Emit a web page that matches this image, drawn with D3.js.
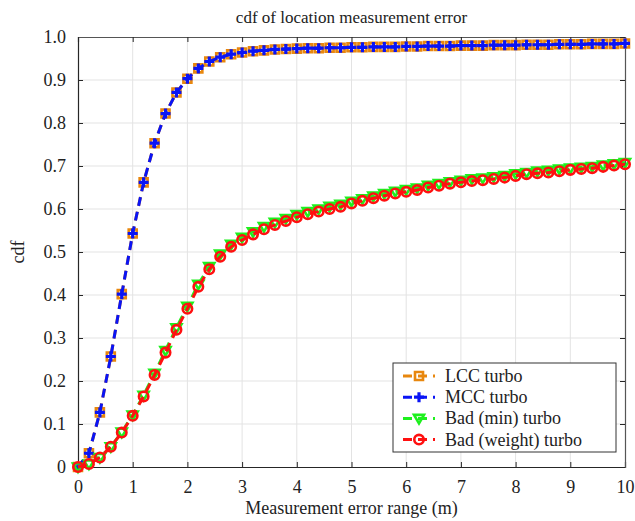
<!DOCTYPE html>
<html>
<head>
<meta charset="utf-8">
<script src="https://cdn.jsdelivr.net/npm/d3@7"></script>
<style>
  body { margin: 0; background: #fff; }
  svg { display: block; }
  svg text { font-family: "Liberation Serif", "DejaVu Serif", serif !important; }
  .grid line { stroke: #e3e3e3; stroke-width: 1; }
</style>
</head>
<body>
<svg class="cdfGraph" width="635" height="521"></svg>
<script>
// x positions: 0 to 10 in steps of 0.2 (51 samples)
const xs = d3.range(0, 51).map(i => +(i * 0.2).toFixed(1));

const mccTurbo = [
  0, 0.032, 0.127, 0.257, 0.402, 0.543, 0.662, 0.753, 0.822, 0.871,
  0.903, 0.927, 0.943, 0.953, 0.960, 0.964, 0.967, 0.969, 0.971, 0.972,
  0.973, 0.974, 0.974, 0.975, 0.975, 0.976, 0.976, 0.977, 0.977, 0.977,
  0.978, 0.978, 0.979, 0.979, 0.979, 0.980, 0.980, 0.980, 0.981, 0.981,
  0.981, 0.982, 0.982, 0.982, 0.983, 0.983, 0.983, 0.984, 0.984, 0.984,
  0.985
];
const lccTurbo = mccTurbo.slice();

const badWeightTurbo = [
  0, 0.007, 0.022, 0.047, 0.080, 0.119, 0.164, 0.214, 0.266, 0.319,
  0.368, 0.419, 0.460, 0.489, 0.512, 0.528, 0.541, 0.553, 0.563, 0.572,
  0.581, 0.588, 0.594, 0.600, 0.605, 0.613, 0.619, 0.625, 0.631, 0.636,
  0.640, 0.644, 0.650, 0.654, 0.659, 0.662, 0.665, 0.667, 0.670, 0.673,
  0.677, 0.681, 0.683, 0.685, 0.688, 0.691, 0.693, 0.695, 0.698, 0.701,
  0.704
];
const badMinTurbo = [
  0, 0.007, 0.022, 0.047, 0.081, 0.121, 0.167, 0.218, 0.271, 0.324,
  0.374, 0.425, 0.466, 0.495, 0.518, 0.534, 0.547, 0.559, 0.569, 0.578,
  0.587, 0.594, 0.600, 0.606, 0.611, 0.618, 0.624, 0.630, 0.636, 0.641,
  0.645, 0.649, 0.655, 0.659, 0.663, 0.667, 0.670, 0.672, 0.675, 0.678,
  0.682, 0.685, 0.688, 0.690, 0.693, 0.695, 0.697, 0.699, 0.702, 0.705,
  0.708
];

const xTicks = d3.range(0, 11);
const yTicks = d3.range(0, 11).map(i => i / 10);

const series = [
  { name: "LCC turbo", values: lccTurbo, color: "#e8870e", marker: "square" },
  { name: "MCC turbo", values: mccTurbo, color: "#0a14f5", marker: "plus" },
  { name: "Bad (min) turbo", values: badMinTurbo, color: "#1ef01e", marker: "triangle" },
  { name: "Bad (weight) turbo", values: badWeightTurbo, color: "#ff1010", marker: "circle" }
];

const svg = d3.select(".cdfGraph");
const margin = { top: 37, right: 10, bottom: 54, left: 78 };
const width = 635 - margin.left - margin.right;
const height = 521 - margin.top - margin.bottom;

const g = svg.append("g").attr("transform", `translate(${margin.left},${margin.top})`);

const x = d3.scaleLinear().domain([0, 10]).range([0, width]);
const y = d3.scaleLinear().domain([0, 1]).range([height, 0]);

// grid
g.append("g").attr("class", "grid")
  .selectAll("line").data(xTicks.slice(1, -1)).enter().append("line")
  .attr("x1", d => x(d)).attr("x2", d => x(d)).attr("y1", 0).attr("y2", height);
g.append("g").attr("class", "grid")
  .selectAll("line").data(yTicks.slice(1, -1)).enter().append("line")
  .attr("y1", d => y(d)).attr("y2", d => y(d)).attr("x1", 0).attr("x2", width);

const fmtY = d => d === 0 ? "0" : d.toFixed(1);

// axes, ticks pointing inward (matlab style)
const axB = g.append("g").attr("transform", `translate(0,${height})`)
  .call(d3.axisBottom(x).tickValues(xTicks).tickSize(-5).tickPadding(13));
const axL = g.append("g")
  .call(d3.axisLeft(y).tickValues(yTicks).tickFormat(fmtY).tickSize(-5).tickPadding(12));
const axT = g.append("g")
  .call(d3.axisTop(x).tickValues(xTicks).tickSize(-5).tickFormat(""));
const axR = g.append("g").attr("transform", `translate(${width},0)`)
  .call(d3.axisRight(y).tickValues(yTicks).tickSize(-5).tickFormat(""));

[axB, axL, axT, axR].forEach(a => {
  a.attr("font-size", 18);
  a.selectAll(".tick text").attr("fill", "#222");
  a.select(".domain").attr("stroke", "#262626").attr("stroke-width", 1.2);
  a.selectAll(".tick line").attr("stroke", "#262626");
});
axT.select(".domain").attr("stroke", "#555");
axR.select(".domain").attr("stroke", "#555");

const line = d3.line().x((d, i) => x(xs[i])).y(d => y(d));

const markerPath = {
  square: d3.symbol().type(d3.symbolSquare).size(64)(),
  triangle: "M-5,-3.5L5,-3.5L0,5Z",
  circle: d3.symbol().type(d3.symbolCircle).size(70)(),
  plus: "M-5,0L5,0M0,-5L0,5"
};

function drawMarker(sel, s) {
  sel.append("path")
    .attr("d", markerPath[s.marker])
    .attr("fill", "none")
    .attr("stroke", s.color)
    .attr("stroke-width", s.marker === "plus" ? 3.2 : 2.6);
}

series.forEach(s => {
  g.append("path")
    .datum(s.values)
    .attr("d", line)
    .attr("fill", "none")
    .attr("stroke", s.color)
    .attr("stroke-width", 3)
    .attr("stroke-dasharray", "9,6");

  g.append("g").selectAll("g")
    .data(s.values).enter().append("g")
    .attr("transform", (d, i) => `translate(${x(xs[i])},${y(d)})`)
    .each(function () { drawMarker(d3.select(this), s); });
});

// title and labels
svg.append("text")
  .attr("x", margin.left + width / 2).attr("y", 23)
  .attr("text-anchor", "middle").attr("font-size", 17).attr("fill", "#222")
  .text("cdf of location measurement error");
svg.append("text")
  .attr("x", margin.left + width / 2).attr("y", 514)
  .attr("text-anchor", "middle").attr("font-size", 18).attr("fill", "#222")
  .text("Measurement error range (m)");
svg.append("text")
  .attr("transform", `translate(24,${margin.top + height / 2}) rotate(-90)`)
  .attr("text-anchor", "middle").attr("font-size", 18).attr("fill", "#222")
  .text("cdf");

// legend
const legend = svg.append("g").attr("transform", "translate(393,363)");
legend.append("rect")
  .attr("width", 223).attr("height", 89)
  .attr("fill", "#fff").attr("stroke", "#333").attr("stroke-width", 1);

series.forEach((s, i) => {
  const row = legend.append("g").attr("transform", `translate(0,${13 + i * 21.2})`);
  row.append("line")
    .attr("x1", 10).attr("x2", 42)
    .attr("stroke", s.color).attr("stroke-width", 3)
    .attr("stroke-dasharray", "9,6");
  row.append("g").attr("transform", "translate(26,0)")
    .call(sel => drawMarker(sel, s));
  row.append("text")
    .attr("x", 52).attr("y", 6)
    .attr("font-size", 18).attr("fill", "#222")
    .text(s.name);
});
</script>
</body>
</html>
